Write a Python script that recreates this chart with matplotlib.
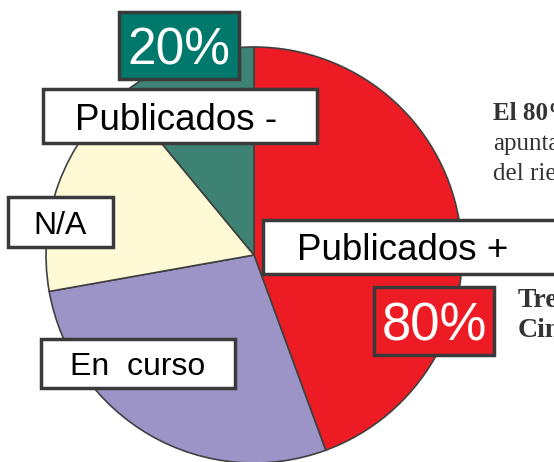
import matplotlib.pyplot as plt
from matplotlib.patches import Rectangle

labels = ["Publicados +", "En  curso", "N/A", "Publicados -"]
shares = [44.4, 27.8, 16.8, 11.0]
colors = ["#ED1C24", "#9C94C7", "#FFFAD6", "#3D8273"]
pct_labels = ["80%", "20%"]

H = 462
fig = plt.figure(figsize=(5.54, 4.62), dpi=100)
ax = fig.add_axes([0, 0, 1, 1])

ax.pie(shares, colors=colors, startangle=90, counterclock=False,
       center=(254, H - 255), radius=208, frame=True,
       wedgeprops=dict(edgecolor="#404040", linewidth=1.2))
ax.set_xlim(0, 554)
ax.set_ylim(0, H)
ax.set_aspect("equal")
ax.axis("off")


def box(x0, y0, x1, y1, text, fc="white", tc="black", size=24, tx=None, ha="center"):
    # pixel coords from top-left
    ax.add_patch(Rectangle((x0, H - y1), x1 - x0, y1 - y0, facecolor=fc,
                           edgecolor="#3A3A3A", linewidth=2.5, zorder=5, clip_on=False))
    if tx is None:
        tx = (x0 + x1) / 2
    ax.text(tx, H - (y0 + y1) / 2, text, ha=ha, va="center_baseline", color=tc,
            fontsize=size, family="Liberation Sans", zorder=6)


box(119, 12, 239, 79, pct_labels[1], fc="#00786B", tc="white", size=37)
box(43, 89, 317, 143, labels[3], size=26.5, tx=176)
box(8, 197, 113, 247, labels[2], size=23)
box(41, 339, 235, 388, labels[1], size=23)
box(263, 220, 570, 274, labels[0], size=26.5, tx=297, ha="left")
box(374, 287, 494, 355, pct_labels[0], fc="#ED1C24", tc="white", size=38)

serif = dict(family="Liberation Serif", color="#333333", ha="left", va="baseline")
ax.text(493, H - 120, "El 80% de los", fontsize=18, fontweight="bold", **serif)
ax.text(493, H - 150, "apuntan", fontsize=18, **serif)
ax.text(493, H - 180, "del riesgo", fontsize=18, **serif)
ax.text(518, H - 307, "Tres", fontsize=20, fontweight="bold", **serif)
ax.text(518, H - 337, "Cinco", fontsize=20, fontweight="bold", **serif)

fig.savefig("out.png", dpi=100)
